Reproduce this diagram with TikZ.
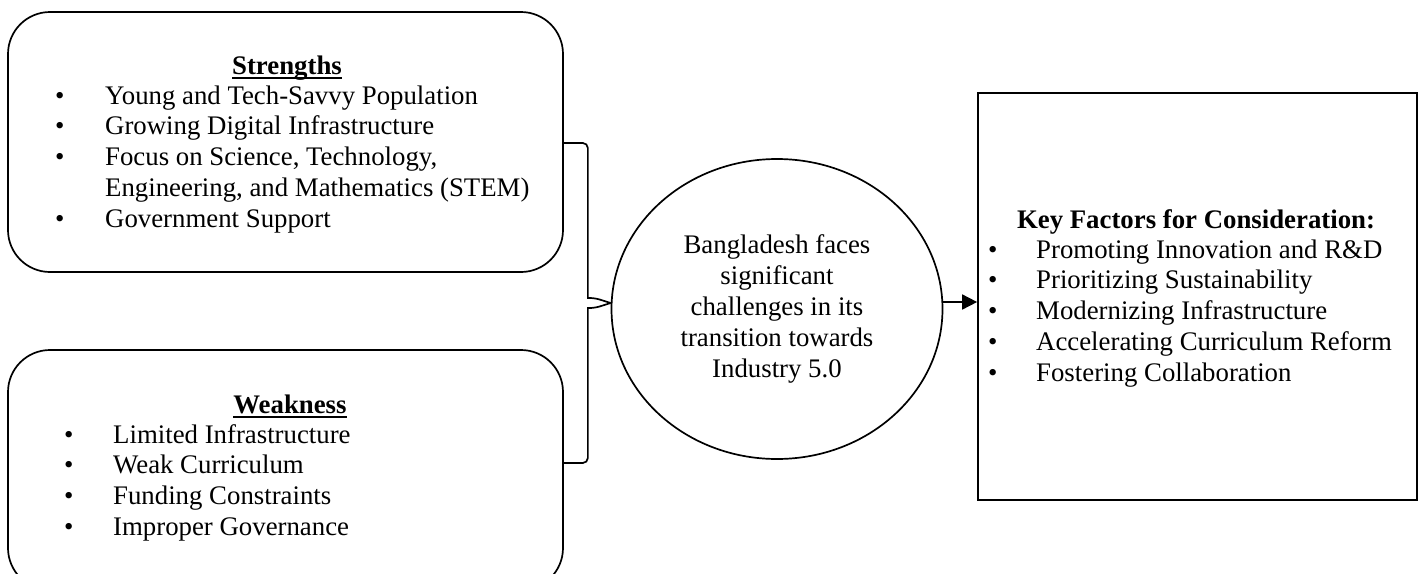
\documentclass[tikz,border=0pt]{standalone}
\usepackage{fontspec}
\setmainfont{Liberation Serif}
\usetikzlibrary{shapes.geometric,arrows.meta}
\newcommand\ultitle[1]{\setbox0\hbox{\textbf{#1}}\rlap{\raisebox{-4.5pt}{\rule{\wd0}{1.6pt}}}\box0}
\begin{document}
\begin{tikzpicture}[x=1pt,y=-1pt,
  txt/.style={font=\fontsize{26.8}{30.8}\selectfont, inner sep=0pt},
  ln/.style={line width=1.7pt},
  rbox/.style={draw, line width=1.7pt, rounded corners=42pt, inner sep=0pt},
  sbox/.style={draw, line width=1.7pt, inner sep=0pt},
  ell/.style={draw, line width=1.7pt, ellipse, inner sep=0pt, align=center, font=\fontsize{26.8}{30.8}\selectfont}]
\useasboundingbox (0,0) rectangle (1419,573);
% boxes
\node[rbox, minimum width=555pt, minimum height=260pt] (str) at (285.5,142) {};
\node[rbox, minimum width=555pt, minimum height=240pt] (wk) at (285.5,470) {};
\node[sbox, minimum width=439pt, minimum height=407pt] (key) at (1197.5,296.5) {};
\node[ell, minimum width=331pt, minimum height=300pt] (circ) at (777,309)
  {Bangladesh faces\\significant\\challenges in its\\transition towards\\Industry 5.0};
% strengths text
\node[txt, anchor=base] (strt) at (287,74) {\ultitle{Strengths}};
\node[txt, anchor=base west] (stri) at (55,104) {\begin{tabular}[t]{@{}p{50pt}@{}l@{}}
\textbullet & Young and Tech-Savvy Population\\
\textbullet & Growing Digital Infrastructure\\
\textbullet & Focus on Science, Technology,\\
 & Engineering, and Mathematics (STEM)\\
\textbullet & Government Support
\end{tabular}};
% weakness text
\node[txt, anchor=base] (wkt) at (290,413) {\ultitle{Weakness}};
\node[txt, anchor=base west] (wki) at (64,443) {\begin{tabular}[t]{@{}p{49pt}@{}l@{}}
\textbullet & Limited Infrastructure\\
\textbullet & Weak Curriculum\\
\textbullet & Funding Constraints\\
\textbullet & Improper Governance
\end{tabular}};
% key factors text
\node[txt, anchor=base] (keyt) at (1196,228) {\textbf{Key Factors for Consideration:}};
\node[txt, anchor=base west] (keyi) at (988,258) {\begin{tabular}[t]{@{}p{48pt}@{}l@{}}
\textbullet & Promoting Innovation and R\&D\\
\textbullet & Prioritizing Sustainability\\
\textbullet & Modernizing Infrastructure\\
\textbullet & Accelerating Curriculum Reform\\
\textbullet & Fostering Collaboration
\end{tabular}};
% brace
\path (str.east) ++(0,1) coordinate (bt);
\path (wk.east) ++(0,-7) coordinate (bb);
\path (circ.west) ++(0,-6) coordinate (tipl);
\path (circ.east) ++(0,-7) coordinate (tipr);
\draw[ln, rounded corners=5pt] (bt) -- ++(24,0) -- ++(0,150)
  .. controls +(0,5) and +(-4,0) .. ++(7,5) -- (tipl);
\draw[ln, rounded corners=5pt] (bb) -- ++(24,0) -- ++(0,-150)
  .. controls +(0,-5) and +(-4,0) .. ++(7,-5) -- (tipl);
% arrow
\draw[ln, -{Triangle[length=15pt,width=15pt]}] (tipr) -- (tipr -| key.west);
\end{tikzpicture}
\end{document}
